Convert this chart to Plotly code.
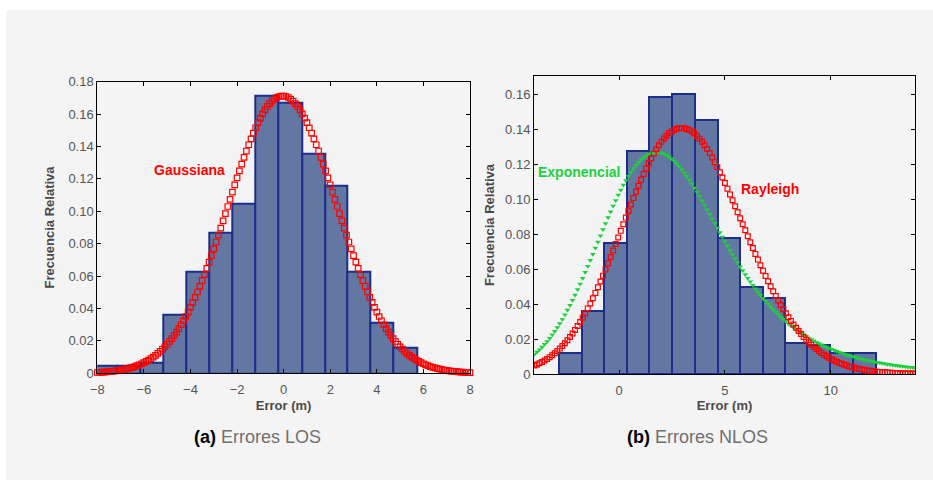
import numpy as np
import plotly.graph_objects as go

W, H = 933, 480

# ---------------- data ----------------
# (a) LOS errors histogram
los_edges = [-8.10, -7.14, -6.17, -5.16, -4.18, -3.18, -2.20, -1.21, -0.23,
             0.78, 1.77, 2.75, 3.73, 4.72, 5.72]
los_freq = [0.0045, 0.0045, 0.0068, 0.0360, 0.0628, 0.0870, 0.1047, 0.1714,
            0.1670, 0.1358, 0.1158, 0.0628, 0.0315, 0.0160]
# fitted Gaussian parameters
los_mu = -0.05
los_sigma = 2.33

# (b) NLOS errors histogram
nlos_edges = [-2.83, -1.76, -0.69, 0.38, 1.43, 2.50, 3.59, 4.66, 5.72, 6.79,
              7.86, 8.90, 9.97, 11.04, 12.13]
nlos_freq = [0.0120, 0.0361, 0.0749, 0.1275, 0.1587, 0.1602, 0.1451, 0.0778,
             0.0495, 0.0434, 0.0180, 0.0166, 0.0119, 0.0120]
# fitted models: Gaussian noise + exponential / Rayleigh bias
nlos_mu = -0.05
nlos_sigma = 2.30
exp_rate = 0.35
rayleigh_scale = 2.55

los_xticks = [-8, -6, -4, -2, 0, 2, 4, 6, 8]
los_yticks = [0, 0.02, 0.04, 0.06, 0.08, 0.10, 0.12, 0.14, 0.16, 0.18]
los_yticktext = ["0", "0.02", "0.04", "0.06", "0.08", "0.10", "0.12", "0.14", "0.16", "0.18"]
nlos_xticks = [0, 5, 10]
nlos_yticks = [0, 0.02, 0.04, 0.06, 0.08, 0.10, 0.12, 0.14, 0.16]
nlos_yticktext = ["0", "0.02", "0.04", "0.06", "0.08", "0.10", "0.12", "0.14", "0.16"]


# ---------------- model curves ----------------
def gauss(x, mu, s):
    return np.exp(-0.5 * ((x - mu) / s) ** 2) / (s * np.sqrt(2 * np.pi))


def conv_with_kernel(x, mu, s, kernel):
    t = np.linspace(0, 40, 4001)
    dt = t[1] - t[0]
    k = kernel(t)
    return np.array([np.sum(gauss(xi - t, mu, s) * k) * dt for xi in x])


x_los = np.linspace(-8, 8, 161)
y_los = gauss(x_los, los_mu, los_sigma)

x_nlos = np.linspace(-4, 14, 151)
y_exp = conv_with_kernel(x_nlos, nlos_mu, nlos_sigma,
                         lambda t: exp_rate * np.exp(-exp_rate * t))
y_ray = conv_with_kernel(x_nlos, nlos_mu, nlos_sigma,
                         lambda t: t / rayleigh_scale ** 2 * np.exp(-t ** 2 / (2 * rayleigh_scale ** 2)))

# ---------------- styling ----------------
BAR_FILL = "#6278a2"
BAR_EDGE = "#1b2e8c"
RED = "#ff0000"
GREEN = "#1ed03c"
TICK_COL = "#555555"
PANEL = "#f4f4f4"
FONT = "Liberation Sans, Arial, sans-serif"


def centers_widths(edges):
    e = np.array(edges)
    return (e[:-1] + e[1:]) / 2, np.diff(e)


fig = go.Figure()

c, w = centers_widths(los_edges)
fig.add_trace(go.Bar(x=c, y=los_freq, width=w, marker=dict(color=BAR_FILL, line=dict(color=BAR_EDGE, width=2)),
                     xaxis="x", yaxis="y", showlegend=False))
fig.add_trace(go.Scatter(x=x_los, y=y_los, mode="markers",
                         marker=dict(symbol="square-open", size=5.5, color=RED, line=dict(width=1.2)),
                         xaxis="x", yaxis="y", showlegend=False, cliponaxis=False))

c2, w2 = centers_widths(nlos_edges)
fig.add_trace(go.Bar(x=c2, y=nlos_freq, width=w2, marker=dict(color=BAR_FILL, line=dict(color=BAR_EDGE, width=2)),
                     xaxis="x2", yaxis="y2", showlegend=False))
fig.add_trace(go.Scatter(x=x_nlos, y=y_exp, mode="markers",
                         marker=dict(symbol="triangle-down", size=5, color=GREEN),
                         xaxis="x2", yaxis="y2", showlegend=False))
fig.add_trace(go.Scatter(x=x_nlos, y=y_ray, mode="markers",
                         marker=dict(symbol="square-open", size=4.8, color=RED, line=dict(width=1.2)),
                         xaxis="x2", yaxis="y2", showlegend=False))


# domains from pixel positions
def xd(a, b):
    return [a / W, b / W]


def yd(top, bottom):
    return [1 - bottom / H, 1 - top / H]


axis_common = dict(showline=True, linecolor="black", linewidth=1, mirror="ticks", automargin=False,
                   ticks="inside", ticklen=4, tickcolor="black", showgrid=False, zeroline=False,
                   tickfont=dict(family=FONT, size=13, color=TICK_COL))
title_font = dict(family=FONT, size=13, color="#4a4a4a")

fig.update_layout(
    width=W, height=H, autosize=False,
    margin=dict(l=0, r=0, t=0, b=0, pad=0, autoexpand=False),
    paper_bgcolor=PANEL,
    plot_bgcolor="rgba(0,0,0,0)",
    bargap=0,
    xaxis=dict(domain=xd(97.3, 470), range=[-8, 8], tickvals=los_xticks, anchor="y", ticklabelstandoff=4,
               title=dict(text="<b>Error (m)</b>", font=title_font, standoff=4), **axis_common),
    yaxis=dict(domain=yd(81.7, 373.3), range=[0, 0.18], tickvals=los_yticks, ticktext=los_yticktext,
               anchor="x", title=dict(text="<b>Frecuencia Relativa</b>", font=title_font, standoff=10),
               **axis_common),
    xaxis2=dict(domain=xd(534, 915), range=[-4.02, 13.98], tickvals=nlos_xticks, anchor="y2",
                ticklabelstandoff=4,
                title=dict(text="<b>Error (m)</b>", font=title_font, standoff=4), **axis_common),
    yaxis2=dict(domain=yd(76, 374), range=[0, 0.1705], tickvals=nlos_yticks, ticktext=nlos_yticktext,
                anchor="x2", title=dict(text="<b>Frecuencia Relativa</b>", font=title_font, standoff=7),
                **axis_common),
    font=dict(family=FONT),
)

# white strips outside the gray panel (left and top)
fig.add_shape(type="rect", xref="paper", yref="paper", x0=0, x1=6 / W, y0=0, y1=1,
              fillcolor="white", line=dict(width=0), layer="below")
fig.add_shape(type="rect", xref="paper", yref="paper", x0=0, x1=1, y0=1 - 10 / H, y1=1,
              fillcolor="white", line=dict(width=0), layer="below")


# curve labels
def label(xp, yp, text, color, size):
    fig.add_annotation(x=xp / W, y=1 - yp / H, xref="paper", yref="paper", showarrow=False,
                       xanchor="center", yanchor="middle", text=text,
                       font=dict(family=FONT, size=size, color=color))


label(189, 170, "<b>Gaussiana</b>", RED, 14)
label(579, 172, "<b>Exponencial</b>", GREEN, 14)
label(770, 189, "<b>Rayleigh</b>", RED, 14)

# captions
label(257, 437, "<b>(a)</b> <span style='color:#707070'>Errores LOS</span>", "black", 18)
label(697, 437, "<b>(b)</b> <span style='color:#707070'>Errores NLOS</span>", "black", 18)

fig.write_html("out.html", post_script="document.body.style.margin='0';")
